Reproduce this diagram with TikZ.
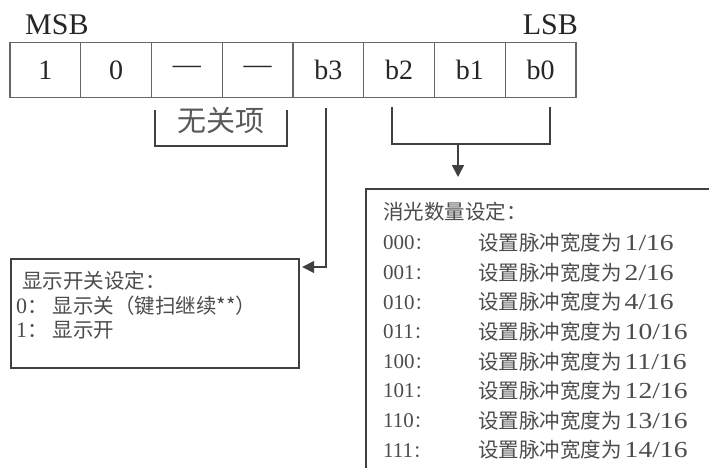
\documentclass[tikz,border=0pt]{standalone}
\usepackage{fontspec}
\setmainfont{Liberation Serif}
\newfontfamily\cjk{Noto Sans CJK SC}
\usetikzlibrary{arrows.meta,calc}
\newcommand{\widenum}[1]{\scalebox{1.2}[1]{\fontsize{23}{23}\selectfont #1}}
\begin{document}
\begin{tikzpicture}[x=1pt,y=-1pt,
  cell/.style={draw=black!60, line width=1.3pt, minimum width=70.75pt, minimum height=55pt, inner sep=0pt,
    font=\fontsize{28}{28}\selectfont, text=black!85},
  hdr/.style={inner sep=0pt, font=\fontsize{30}{30}\selectfont, text=black!85},
  box/.style={draw=black!75, line width=2.2pt, inner sep=0pt},
  conn/.style={draw=black!75, line width=1.6pt},
  arr/.style={conn, -{Triangle[length=12pt,width=12pt]}},
  txt/.style={inner sep=0pt, anchor=west, text=black!70},
  ltxt/.style={txt, font=\fontsize{20.5}{20.5}\selectfont},
  rtxt/.style={txt, font=\fontsize{20.5}{20.5}\selectfont}
]
\useasboundingbox (0,0) rectangle (709,468);
\clip (0,0) rectangle (709,468);
\fill[white] (0,0) rectangle (709,468);

% register
\foreach \t [count=\i from 0] in {1,0,—,—,b3,b2,b1,b0}
  \node[cell] (c\i) at ({10+70.75*(\i+0.5)},70) {\t};
\node[hdr, anchor=base west] (msb) at (25,35) {MSB};
\node[hdr, anchor=base east] (lsb) at (578,35) {LSB};

% don't-care bracket
\coordinate (wl) at (155,110);
\coordinate (wr) at (287,110);
\draw[conn, line width=1.4pt] (wl) -- (wl |- 0,146) -- (wr |- 0,146) -- (wr);
\node[inner sep=0pt, font=\cjk\fontsize{29}{29}\selectfont, text=black!65] (wgx) at (221,121) {无关项};

% b2..b0 bracket
\coordinate (bl) at (392,107);
\coordinate (br) at (550,107);
\coordinate (bm) at (458,144);
\draw[conn, line width=1.4pt] (bl) -- (bl |- bm) -- (br |- bm) -- (br);

% right box (open to the right and below)
\node[box, anchor=north west, minimum width=420pt, minimum height=330pt] (rbox) at (365,188) {};
\draw[arr, shorten >=11pt] (bm) -- (bm |- rbox.north);

% left box
\node[box, anchor=north west, minimum width=288pt, minimum height=109pt] (lbox) at (10,258) {};
\coordinate (b3s) at (326,108);
\draw[arr, shorten >=2pt] (b3s) |- ($(lbox.north east)+(0,9)$);

% left box text
\node[ltxt] (l0) at (22,281) {\cjk 显示开关设定：};
\node[ltxt] (l1) at (16,306) {{\fontsize{22}{22}\selectfont 0}{\cjk ：\hspace{5pt}显示关（键扫继续**）}};
\node[ltxt] (l2) at (16,330) {{\fontsize{22}{22}\selectfont 1}{\cjk ：\hspace{5pt}显示开}};

% right box text
\node[rtxt] (rh) at (383,212) {\cjk 消光数量设定：};
\foreach \c/\v [count=\i from 0] in {000/1,001/2,010/4,011/10,100/11,101/12,110/13,111/14} {
  \node[rtxt, font=\fontsize{21}{21}\selectfont] (k\i) at (383,{243+29.6*\i}) {\c{\cjk\fontsize{17}{17}\selectfont ：}};
  \node[rtxt] (d\i) at (478,{243+29.6*\i}) {{\cjk 设置脉冲宽度为}\hspace{3pt}\widenum{\v/16}};
}
\end{tikzpicture}
\end{document}
